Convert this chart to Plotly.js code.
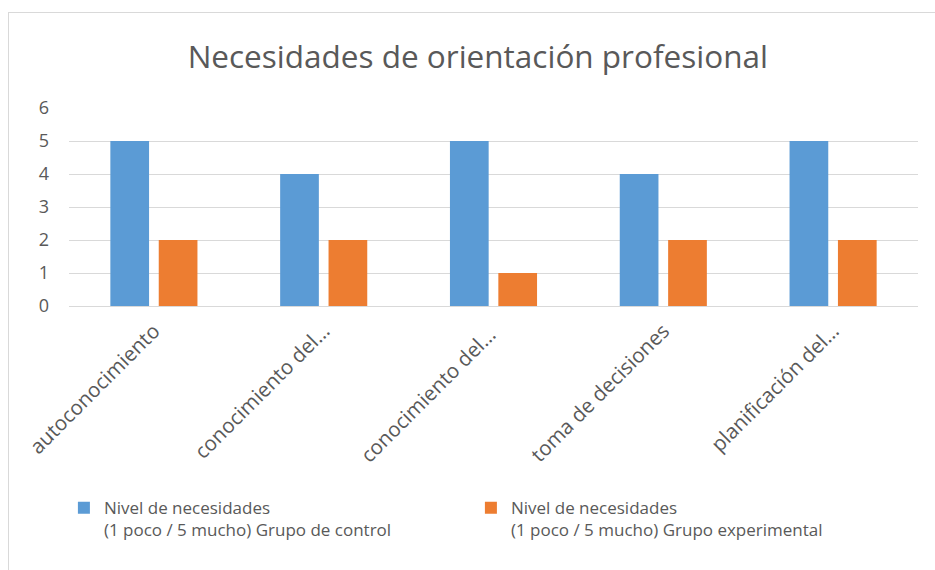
<!DOCTYPE html>
<html>
<head>
<meta charset="utf-8">
<script src="https://cdn.plot.ly/plotly-3.0.1.min.js"></script>
<style>
  body { margin: 0; background: #fff; }
  #wrap { position: relative; width: 935px; height: 570px; }
  #frame { position: absolute; left: 8px; top: 12px; width: 940px; height: 570px;
           border-left: 1px solid #d9d9d9; border-top: 1px solid #d9d9d9; pointer-events: none; }
</style>
</head>
<body>
<div id="wrap">
  <div id="plot"></div>
  <div id="frame"></div>
</div>
<script>
// categorías del eje x
const categorias = [
    "autoconocimiento",
    "conocimiento del…",
    "conocimiento del… ",
    "toma de decisiones",
    "planificación del…"
];
const control = [5, 4, 5, 4, 5];
const experimental = [2, 2, 1, 2, 2];

const nombreControl = "Nivel de necesidades<br>(1 poco / 5 mucho) Grupo de control";
const nombreExperimental = "Nivel de necesidades<br>(1 poco / 5 mucho) Grupo experimental";

const data = [
    {
        x: categorias,
        y: control,
        name: nombreControl,
        type: "bar",
        marker: { color: "#5B9BD5" },
    },
    {
        x: categorias,
        y: experimental,
        name: nombreExperimental,
        type: "bar",
        marker: { color: "#ED7D31" },
    },
];

const layout = {
    width: 935,
    height: 570,
    margin: { l: 69, r: 17, t: 108, b: 264, autoexpand: false },
    paper_bgcolor: "white",
    plot_bgcolor: "white",
    font: { family: "Open Sans, sans-serif", color: "#595959", size: 15 },
    title: {
        text: "Necesidades de orientación profesional",
        font: { size: 31.5, color: "#595959" },
        x: 0.511,
        xanchor: "center",
        y: 0.9,
        yanchor: "middle",
    },
    barmode: "group",
    bargap: 0.43,
    bargroupgap: 0.2,
    xaxis: {
        type: "category",
        tickangle: -45,
        showgrid: false,
        showline: false,
        zeroline: false,
        ticks: "",
        automargin: false,
        ticklabelstandoff: 8,
        tickfont: { size: 20.5, color: "#595959" },
        fixedrange: true,
    },
    yaxis: {
        range: [0, 6],
        dtick: 1,
        showgrid: true,
        gridcolor: "#d9d9d9",
        zeroline: true,
        zerolinecolor: "#d9d9d9",
        showline: false,
        ticks: "",
        automargin: false,
        ticklabelstandoff: 19,
        tickfont: { size: 18, color: "#595959" },
        fixedrange: true,
    },
    showlegend: true,
    legend: {
        orientation: "h",
        x: -0.006,
        xanchor: "left",
        y: -0.93,
        yanchor: "top",
        entrywidth: 362,
        valign: "top",
        font: { size: 17, color: "#595959" },
    },
};

Plotly.newPlot(document.getElementById("plot"), data, layout, { displayModeBar: false, staticPlot: true });
</script>
</body>
</html>
